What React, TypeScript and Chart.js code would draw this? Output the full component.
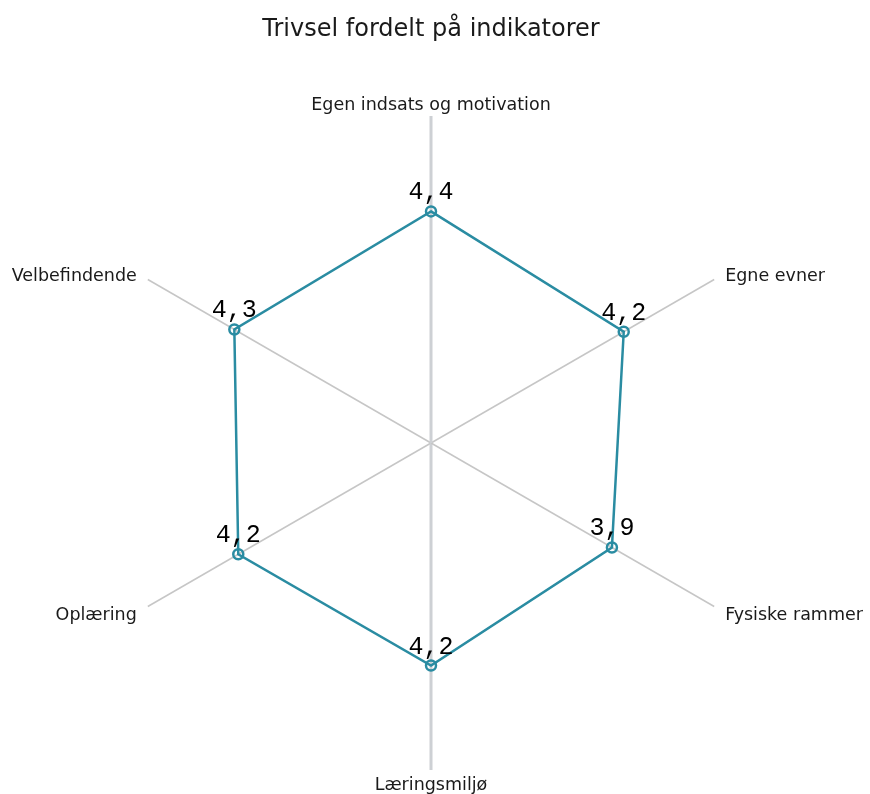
import React, { useEffect, useRef } from "react";
import { Chart, registerables } from "chart.js";

Chart.register(...registerables);

const chartTitle = "Trivsel fordelt på indikatorer";
const categories = [
  "Egen indsats og motivation",
  "Egne evner",
  "Fysiske rammer",
  "Læringsmiljø",
  "Oplæring",
  "Velbefindende",
];
const values = [4.4, 4.2, 3.9, 4.2, 4.2, 4.3];
const scaleMin = -0.7;
const scaleMax = 6.5;

const LINE_COLOR = "#2a8ca2";

const formatValue = (v: number) => v.toFixed(1).replace(".", ",");

const pointLabelPlugin = {
  id: "customPointLabels",
  afterDraw(chart: any) {
    const scale = chart.scales.r;
    const ctx = chart.ctx;
    ctx.save();
    ctx.font = '17.5px "DejaVu Sans"';
    ctx.fillStyle = "#1a1a1a";
    ctx.textBaseline = "alphabetic";
    const R = scale.drawingArea;
    categories.forEach((label, i) => {
      const p = scale.getPointPosition(i, R);
      const angleDeg = (360 / categories.length) * i;
      let align: CanvasTextAlign = "center";
      let dx = 0;
      let dy = 0;
      if (angleDeg === 0) {
        dy = -6.5;
      } else if (angleDeg === 180) {
        dy = 20;
      } else {
        align = angleDeg < 180 ? "left" : "right";
        dx = angleDeg < 180 ? 11 : -11;
        dy = angleDeg < 90 || angleDeg > 270 ? 1 : 13.5;
      }
      ctx.textAlign = align;
      ctx.fillText(label, p.x + dx, p.y + dy);
    });
    ctx.restore();
  },
};

const dataLabelPlugin = {
  id: "customDataLabels",
  afterDatasetsDraw(chart: any) {
    const ctx = chart.ctx;
    const meta = chart.getDatasetMeta(0);
    ctx.save();
    ctx.font = '25px "Liberation Mono"';
    ctx.fillStyle = "#000";
    ctx.textAlign = "center";
    ctx.textBaseline = "alphabetic";
    meta.data.forEach((pt: any, i: number) => {
      ctx.fillText(formatValue(values[i]), pt.x, pt.y - 12);
    });
    ctx.restore();
  },
};

export default function App() {
  const canvasRef = useRef<HTMLCanvasElement | null>(null);

  useEffect(() => {
    if (!canvasRef.current) return;
    const chart = new Chart(canvasRef.current, {
      type: "radar",
      data: {
        labels: categories,
        datasets: [
          {
            label: chartTitle,
            data: values,
            borderColor: LINE_COLOR,
            borderWidth: 2.5,
            backgroundColor: "rgba(0,0,0,0)",
            fill: false,
            pointRadius: 5,
            pointBorderWidth: 2.5,
            pointBorderColor: LINE_COLOR,
            pointBackgroundColor: "rgba(0,0,0,0)",
          },
        ],
      },
      options: {
        animation: false,
        responsive: true,
        maintainAspectRatio: false,
        layout: { padding: { left: 0, right: 8, top: 0, bottom: 24 } },
        plugins: {
          legend: { display: false },
          tooltip: { enabled: false },
          title: {
            display: true,
            text: chartTitle,
            color: "#1a1a1a",
            font: { family: '"DejaVu Sans"', size: 24, weight: "normal" },
            padding: { top: 15, bottom: 72.2 },
          },
        },
        scales: {
          r: {
            min: scaleMin,
            max: scaleMax,
            ticks: { display: false },
            grid: { display: false },
            pointLabels: { display: false },
            angleLines: {
              display: true,
              color: (ctx: any) => (ctx.index % 3 === 0 ? "#cdd0d4" : "#c6c6c6"),
              lineWidth: (ctx: any) => (ctx.index % 3 === 0 ? 3 : 1.5),
            },
          },
        },
      },
      plugins: [pointLabelPlugin, dataLabelPlugin],
    });
    return () => chart.destroy();
  }, []);

  return (
    <div style={{ position: "fixed", left: 0, top: 0, width: 870, height: 794 }}>
      <canvas ref={canvasRef} />
    </div>
  );
}
